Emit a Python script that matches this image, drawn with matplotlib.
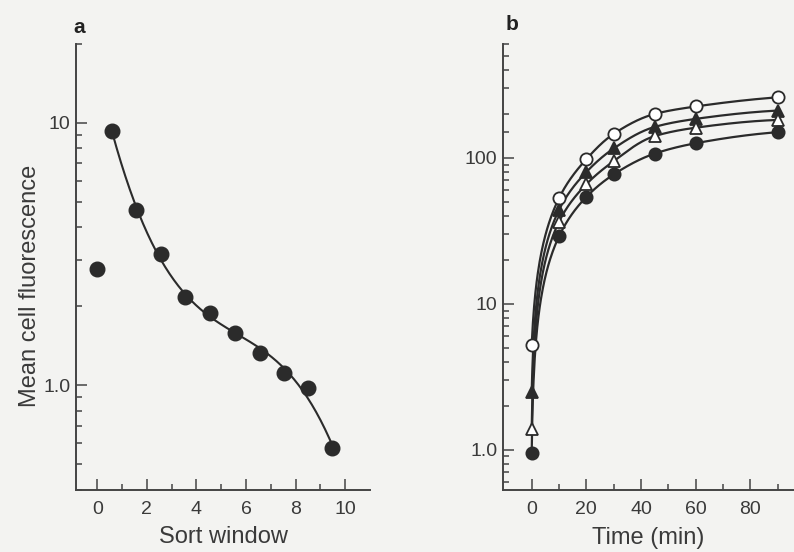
import numpy as np
import matplotlib.pyplot as plt
from matplotlib.ticker import FixedLocator, FixedFormatter, NullFormatter

plt.rcParams['font.family'] = ['Liberation Sans', 'DejaVu Sans']

# panel a: mean fluorescence per sort window
window = [0, 0.6, 1.55, 2.55, 3.55, 4.55, 5.55, 6.55, 7.55, 8.5, 9.45]
fluor_a = [2.78, 9.3, 4.65, 3.15, 2.16, 1.89, 1.58, 1.33, 1.11, 0.975, 0.577]

# panel b: uptake over time, four series
time_min = [0, 10, 20, 30, 45, 60, 90]
open_circ = [5.25, 53, 98, 146, 200, 225, 260]
filled_tri = [2.5, 44, 80, 116, 163, 185, 211]
open_tri = [1.38, 36.5, 66, 95, 141, 161, 182]
filled_circ = [0.95, 29, 54, 77, 107, 126, 150]

bg = '#f3f3f1'
ink = '#2b2b2b'
txt = '#3a3a3a'


def pchip(x, y, xn):
    # monotone cubic (Fritsch-Carlson) so the curves don't overshoot
    x = np.asarray(x, float)
    y = np.asarray(y, float)
    h = np.diff(x)
    d = np.diff(y) / h
    n = len(x)
    m = np.zeros(n)
    for k in range(1, n - 1):
        if d[k - 1] * d[k] > 0:
            w1 = 2 * h[k] + h[k - 1]
            w2 = h[k] + 2 * h[k - 1]
            m[k] = (w1 + w2) / (w1 / d[k - 1] + w2 / d[k])
    m[0] = ((2 * h[0] + h[1]) * d[0] - h[0] * d[1]) / (h[0] + h[1])
    if np.sign(m[0]) != np.sign(d[0]):
        m[0] = 0
    m[-1] = ((2 * h[-1] + h[-2]) * d[-1] - h[-1] * d[-2]) / (h[-1] + h[-2])
    if np.sign(m[-1]) != np.sign(d[-1]):
        m[-1] = 0
    i = np.clip(np.searchsorted(x, xn) - 1, 0, n - 2)
    t = (xn - x[i]) / h[i]
    h00 = 2 * t**3 - 3 * t**2 + 1
    h10 = t**3 - 2 * t**2 + t
    h01 = -2 * t**3 + 3 * t**2
    h11 = t**3 - t**2
    return h00 * y[i] + h10 * h[i] * m[i] + h01 * y[i + 1] + h11 * h[i] * m[i + 1]


def style_axes(ax):
    ax.set_facecolor(bg)
    for s in ['top', 'right']:
        ax.spines[s].set_visible(False)
    for s in ['left', 'bottom']:
        ax.spines[s].set_color('#444444')
        ax.spines[s].set_linewidth(1.4)
    ax.tick_params(which='both', direction='in', colors='#444444',
                   labelcolor=txt, labelsize=14, width=1.1)
    ax.tick_params(which='major', length=8)
    ax.tick_params(which='minor', length=4.5)
    ax.tick_params(axis='x', which='major', pad=8)
    ax.tick_params(axis='y', which='major', pad=4)


fig = plt.figure(figsize=(7.94, 5.52), dpi=100)
fig.patch.set_facecolor(bg)

# ---- panel a ----
ax1 = fig.add_axes([0.0957, 0.1132, 0.3703, 0.8076])
style_axes(ax1)
ax1.set_yscale('log')
ax1.set_xlim(-0.86, 11.0)
ax1.set_ylim(0.4, 20)

# smooth fit through windows 1-10 (log space)
coef = np.polyfit(window[1:], np.log10(fluor_a[1:]), 3)
xs = np.linspace(window[1], window[-1], 200)
ax1.plot(xs, 10 ** np.polyval(coef, xs), color=ink, lw=1.5, zorder=2)
ax1.plot(window, fluor_a, 'o', color=ink, ms=10.5, zorder=3)

ax1.xaxis.set_major_locator(FixedLocator([0, 2, 4, 6, 8, 10]))
ax1.xaxis.set_minor_locator(FixedLocator([1, 3, 5, 7, 9]))
ax1.yaxis.set_major_locator(FixedLocator([1, 10]))
ax1.yaxis.set_major_formatter(FixedFormatter(['1.0', '10']))
minor_a = [v * 0.1 for v in range(4, 10)] + list(range(2, 10)) + [20]
ax1.yaxis.set_minor_locator(FixedLocator(minor_a))
ax1.yaxis.set_minor_formatter(NullFormatter())

ax1.set_xlabel('Sort window', fontsize=17, color=txt)
ax1.xaxis.set_label_coords(0.5, -0.082)
ax1.set_ylabel('Mean cell fluorescence', fontsize=17, color=txt)
ax1.yaxis.set_label_coords(-0.118, 0.456)

# ---- panel b ----
ax2 = fig.add_axes([0.6335, 0.1123, 0.3665, 0.8074])
style_axes(ax2)
ax2.set_yscale('log')
ax2.set_xlim(-10.5, 96)
ax2.set_ylim(0.53, 600)

ts = np.linspace(0, 90, 400)
series = [
    (open_circ, 'o', 'white'),
    (filled_tri, '^', ink),
    (open_tri, '^', 'white'),
    (filled_circ, 'o', ink),
]
for vals, mk, fc in series:
    ax2.plot(ts, pchip(time_min, vals, ts), color=ink, lw=1.6, zorder=2)
    ax2.plot(time_min, vals, mk, mfc=fc, mec=ink, mew=1.3, ms=8.8, zorder=3,
             linestyle='none')

ax2.xaxis.set_major_locator(FixedLocator([0, 20, 40, 60, 80]))
ax2.xaxis.set_minor_locator(FixedLocator([10, 30, 50, 70, 90]))
ax2.yaxis.set_major_locator(FixedLocator([1, 10, 100]))
ax2.yaxis.set_major_formatter(FixedFormatter(['1.0', '10', '100']))
minor_b = ([v * 0.1 for v in range(6, 10)] + list(range(2, 10))
           + list(range(20, 100, 10)) + [150, 200, 300, 400, 500, 600])
ax2.yaxis.set_minor_locator(FixedLocator(minor_b))
ax2.yaxis.set_minor_formatter(NullFormatter())

ax2.set_xlabel('Time (min)', fontsize=17, color=txt)
ax2.xaxis.set_label_coords(0.5, -0.084)

# panel letters
fig.text(79 / 794, 1 - 33 / 552, 'a', fontsize=15, fontweight='bold',
         color='#222222', ha='center', va='baseline')
fig.text(512 / 794, 1 - 30 / 552, 'b', fontsize=15, fontweight='bold',
         color='#222222', ha='center', va='baseline')

fig.savefig('out.png', dpi=100, facecolor=bg)
